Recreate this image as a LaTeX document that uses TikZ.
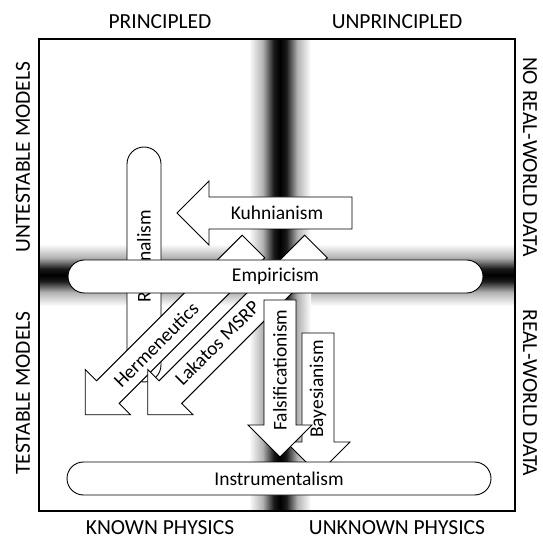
\documentclass[tikz,border=0pt]{standalone}
\usepackage{fontspec}
\setmainfont{Carlito}
\usepackage{xcolor}
\usepackage{tikz}

\pgfdeclarehorizontalshading{vband}{100bp}{color(0bp)=(white); color(25bp)=(white); color(36bp)=(black!30); color(45bp)=(black!90); color(50bp)=(black); color(55bp)=(black!90); color(64bp)=(black!30); color(75bp)=(white); color(100bp)=(white)}
\pgfdeclareverticalshading{hband}{100bp}{color(0bp)=(white); color(25bp)=(white); color(36bp)=(black!30); color(45bp)=(black!90); color(50bp)=(black); color(55bp)=(black!90); color(64bp)=(black!30); color(75bp)=(white); color(100bp)=(white)}

% block arrow: tail point, angle, length
\newcommand{\bigarrow}[3]{\draw [arrowbox, shift={#1}, rotate=#2] (0,-16) -- (#3-32,-16) -- (#3-32,-32) -- (#3,0) -- (#3-32,32) -- (#3-32,16) -- (0,16) -- cycle;}

\begin{document}
\begin{tikzpicture}[x=1pt, y=1pt]
        \tikzset{arrowbox/.style={draw, fill=white, line width=0.9pt}};
        \tikzset{pill/.style={draw, fill=white, line width=0.9pt, rounded corners=16.5pt, inner sep=0pt}};
        \tikzset{axis/.style={font=\fontsize{21.5}{24}\selectfont, inner sep=1pt}};
        \tikzset{boxtext/.style={font=\fontsize{19.5}{22}\selectfont}};

        \useasboundingbox (0,0) rectangle (543,538);

        % bands and frame
        \shade [shading=hband] (39,232) rectangle (515,294);
        \shade [shading=vband] (249,27) rectangle (311,499);
        \draw [line width=1.2pt] (39,27) rectangle (515,499);

        \node [pill, minimum width=34pt, minimum height=235pt, rounded corners=17pt] (rationalism) at (144,273.5) {};
        \node [boxtext, rotate=90] (rationalismtext) at (144,281.5) {Rationalism};

        \bigarrow{(352,325)}{180}{175}
        \node [boxtext] (kuhnianism) at (277,325) {Kuhnianism};

        \bigarrow{(253.5,291.5)}{225}{238}
        \node [boxtext, rotate=45] (hermeneutics) at (156,193) {Hermeneutics};
        \bigarrow{(316,291.5)}{225}{238}
        \node [boxtext, rotate=45] (lakatos) at (217,195) {Lakatos MSRP};

        \node [pill, boxtext, minimum width=415pt, minimum height=33pt] (empiricism) at (275.5,261.5) {Empiricism};

        \bigarrow{(318,205)}{270}{141}
        \node [boxtext, rotate=90] (bayesianism) at (318,149) {Bayesianism};
        \bigarrow{(280,238)}{270}{157}
        \node [boxtext, rotate=90] (falsificationism) at (280,168) {Falsificationism};

        \node [pill, boxtext, minimum width=424pt, minimum height=33pt] (instrumentalism) at (279,59.5) {Instrumentalism};

        % axis labels
        \node [axis] (principled) at (160,516) {PRINCIPLED};
        \node [axis] (unprincipled) at (397,516) {UNPRINCIPLED};
        \node [axis] (known) at (160,10.5) {KNOWN PHYSICS};
        \node [axis] (unknown) at (397,10.5) {UNKNOWN PHYSICS};
        \node [axis, rotate=90] (untestable) at (23,381) {UNTESTABLE MODELS};
        \node [axis, rotate=90] (testable) at (23,145) {TESTABLE MODELS};
        \node [axis, rotate=-90] (noreal) at (530,381) {NO REAL-WORLD DATA};
        \node [axis, rotate=-90] (real) at (530,145) {REAL-WORLD DATA};
    \end{tikzpicture}
\end{document}
